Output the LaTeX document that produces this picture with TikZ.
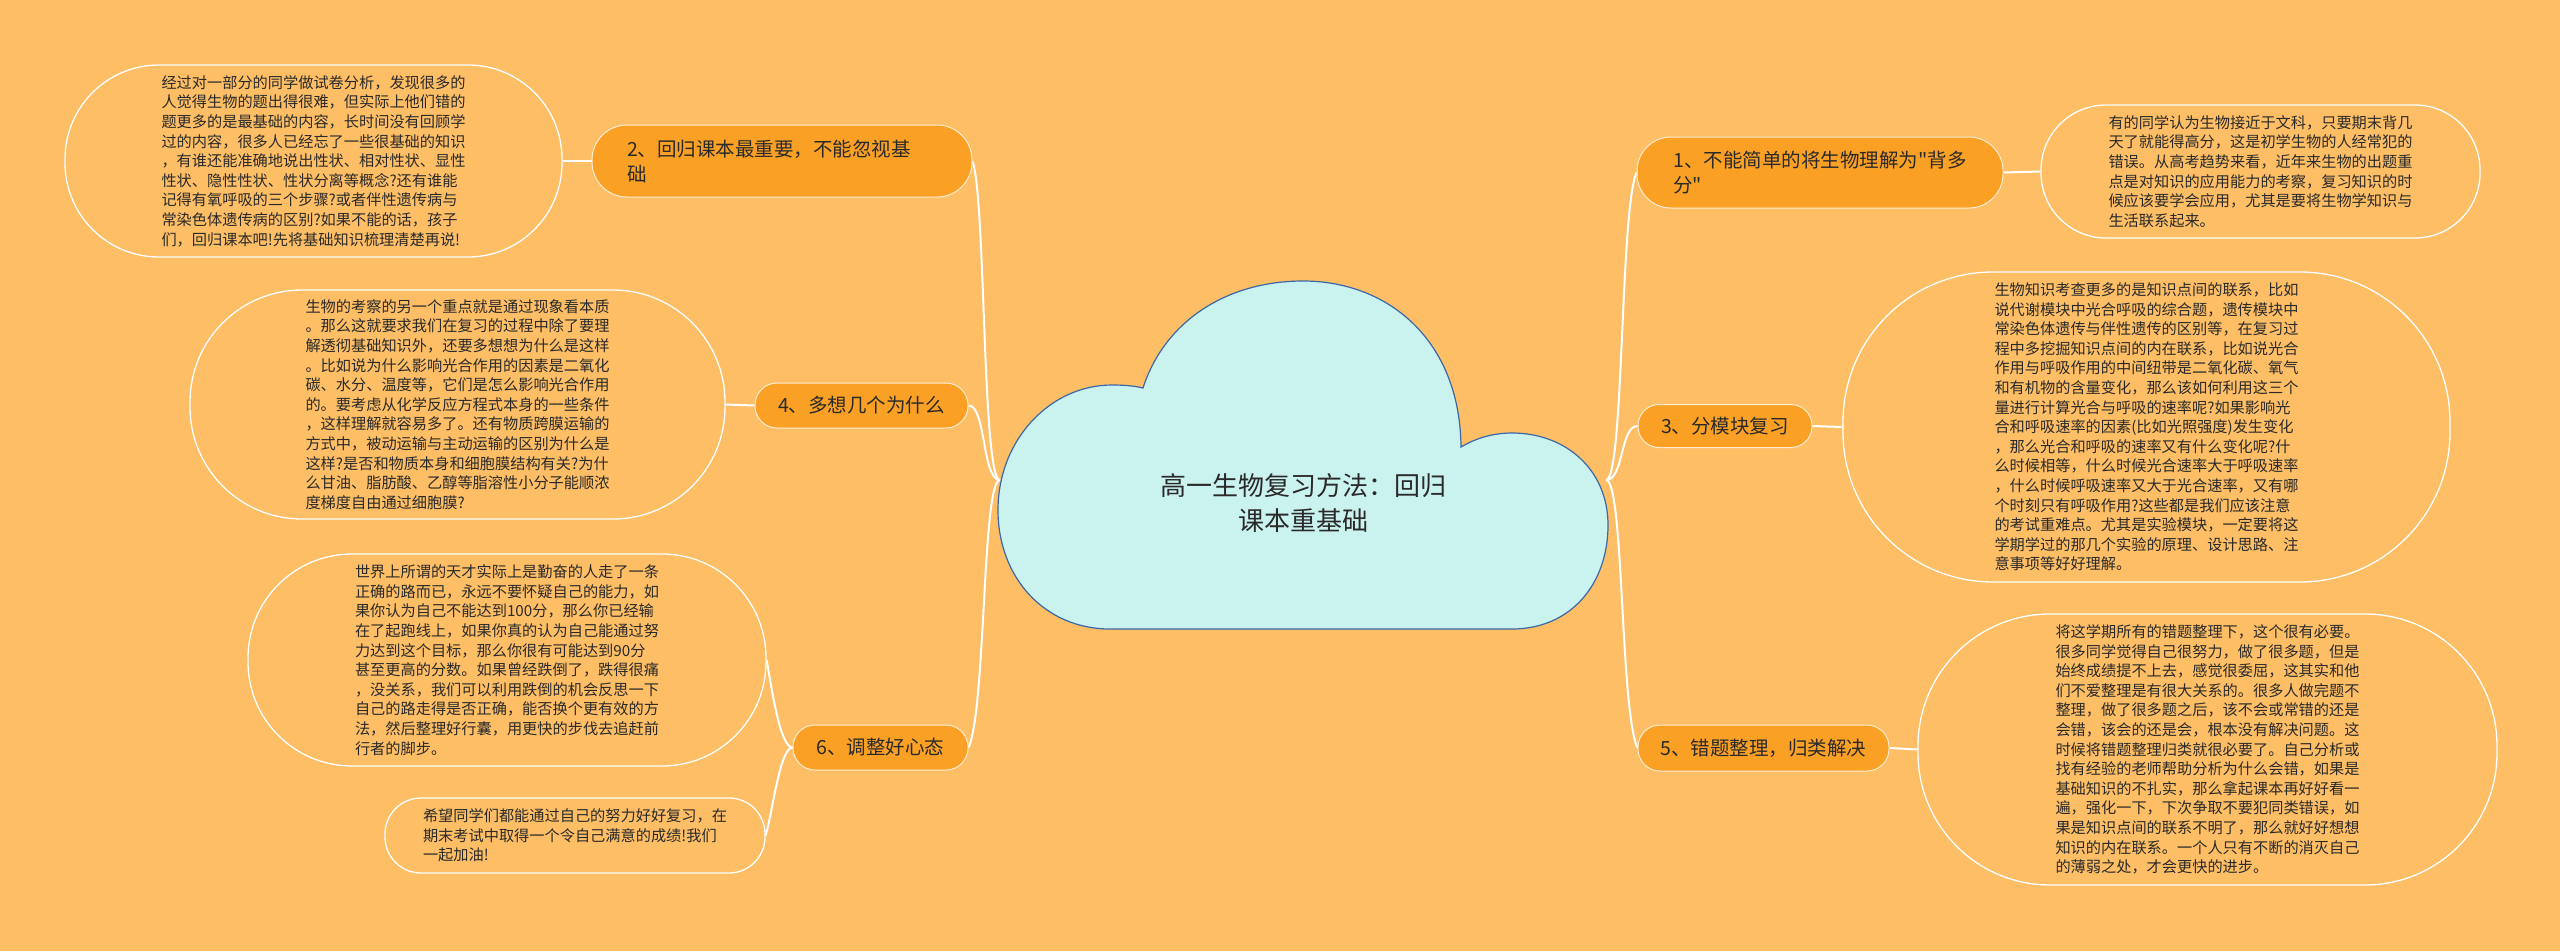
\documentclass[tikz,border=0pt]{standalone}
\usepackage{fontspec}
\newfontfamily\cjk{Noto Sans CJK SC}
\definecolor{bgc}{HTML}{FDBE66}
\definecolor{brc}{HTML}{FAA125}
\definecolor{cloudc}{HTML}{CAF2EF}
\definecolor{cloudb}{HTML}{3A68A8}
\definecolor{txt}{HTML}{2A2A2A}
\pgfdeclarelayer{back}
\pgfsetlayers{back,main}
\tikzset{
  leaf/.style={draw=white, line width=1.3pt, fill=bgc, text=txt,
    font=\cjk\fontsize{15.2}{19.6}\selectfont, align=left, inner sep=0pt,
    rounded corners=#1},
  branch/.style={draw=white!80!brc, line width=1pt, fill=brc, text=txt,
    font=\cjk\fontsize{19.5}{25}\selectfont, align=left, inner sep=0pt,
    rounded corners=#1},
  conn/.style={draw=white, line width=2pt},
  cloudtext/.style={text=txt, font=\cjk\fontsize{26}{35}\selectfont, align=center, inner sep=0pt}
}
\begin{document}
\begin{tikzpicture}[x=1pt,y=-1pt]
\useasboundingbox (0,0) rectangle (2560,951);
\begin{pgfonlayer}{back}
\fill[bgc] (0,0) rectangle (2560,951);
\end{pgfonlayer}

% central cloud
\filldraw[fill=cloudc, draw=cloudb, line width=1.2pt]
 (1143,388) .. controls (1165,320) and (1228,281) .. (1303,281)
 .. controls (1388,281) and (1460,340) .. (1461,447)
 .. controls (1478,437) and (1495,433) .. (1512,433)
 .. controls (1566,433) and (1608,470) .. (1608,525)
 .. controls (1608,585) and (1570,629) .. (1512,629)
 -- (1110,629)
 .. controls (1045,629) and (998,578) .. (998,510)
 .. controls (998,440) and (1050,385) .. (1112,385)
 .. controls (1125,385) and (1135,386) .. (1143,388) -- cycle;
\node[cloudtext] (root) at (1303,503) {高一生物复习方法：回归\\课本重基础};
\coordinate (rootL) at (1000,480);
\coordinate (rootR) at (1606,480);

% branches right
\node[branch=34pt, minimum width=366pt, minimum height=71pt] (b1) at (1820,172.5)
  {1、不能简单的将生物理解为"背多\\分"};
\node[branch=21pt, minimum width=174pt, minimum height=43pt] (b3) at (1725,426) {3、分模块复习};
\node[branch=22pt, minimum width=251pt, minimum height=46pt] (b5) at (1763.5,748) {5、错题整理，归类解决};

% branches left
\node[branch=35pt, minimum width=380pt, minimum height=72pt, text width=310pt] (b2) at (782,161)
  {2、回归课本最重要，不能忽视基\\础};
\node[branch=22pt, minimum width=213pt, minimum height=45pt] (b4) at (861.5,405.5) {4、多想几个为什么};
\node[branch=22pt, minimum width=175pt, minimum height=45pt] (b6) at (880.5,747.5) {6、调整好心态};

% leaves right
\node[leaf=65pt, minimum width=439pt, minimum height=133pt] (l1) at (2260.5,171.5)
{有的同学认为生物接近于文科，只要期末背几\\
天了就能得高分，这是初学生物的人经常犯的\\
错误。从高考趋势来看，近年来生物的出题重\\
点是对知识的应用能力的考察，复习知识的时\\
候应该要学会应用，尤其是要将生物学知识与\\
生活联系起来。};

\node[leaf=150pt, minimum width=607pt, minimum height=310pt] (l3) at (2146.5,427)
{生物知识考查更多的是知识点间的联系，比如\\
说代谢模块中光合呼吸的综合题，遗传模块中\\
常染色体遗传与伴性遗传的区别等，在复习过\\
程中多挖掘知识点间的内在联系，比如说光合\\
作用与呼吸作用的中间纽带是二氧化碳、氧气\\
和有机物的含量变化，那么该如何利用这三个\\
量进行计算光合与呼吸的速率呢?如果影响光\\
合和呼吸速率的因素(比如光照强度)发生变化\\
，那么光合和呼吸的速率又有什么变化呢?什\\
么时候相等，什么时候光合速率大于呼吸速率\\
，什么时候呼吸速率又大于光合速率，又有哪\\
个时刻只有呼吸作用?这些都是我们应该注意\\
的考试重难点。尤其是实验模块，一定要将这\\
学期学过的那几个实验的原理、设计思路、注\\
意事项等好好理解。};

\node[leaf=132pt, minimum width=579pt, minimum height=271pt] (l5) at (2207.5,749.5)
{将这学期所有的错题整理下，这个很有必要。\\
很多同学觉得自己很努力，做了很多题，但是\\
始终成绩提不上去，感觉很委屈，这其实和他\\
们不爱整理是有很大关系的。很多人做完题不\\
整理，做了很多题之后，该不会或常错的还是\\
会错，该会的还是会，根本没有解决问题。这\\
时候将错题整理归类就很必要了。自己分析或\\
找有经验的老师帮助分析为什么会错，如果是\\
基础知识的不扎实，那么拿起课本再好好看一\\
遍，强化一下，下次争取不要犯同类错误，如\\
果是知识点间的联系不明了，那么就好好想想\\
知识的内在联系。一个人只有不断的消灭自己\\
的薄弱之处，才会更快的进步。};

% leaves left
\node[leaf=94pt, minimum width=497pt, minimum height=192pt] (l2) at (313.5,161)
{经过对一部分的同学做试卷分析，发现很多的\\
人觉得生物的题出得很难，但实际上他们错的\\
题更多的是最基础的内容，长时间没有回顾学\\
过的内容，很多人已经忘了一些很基础的知识\\
，有谁还能准确地说出性状、相对性状、显性\\
性状、隐性性状、性状分离等概念?还有谁能\\
记得有氧呼吸的三个步骤?或者伴性遗传病与\\
常染色体遗传病的区别?如果不能的话，孩子\\
们，回归课本吧!先将基础知识梳理清楚再说!};

\node[leaf=112pt, minimum width=535pt, minimum height=229pt] (l4) at (457.5,404.5)
{生物的考察的另一个重点就是通过现象看本质\\
。那么这就要求我们在复习的过程中除了要理\\
解透彻基础知识外，还要多想想为什么是这样\\
。比如说为什么影响光合作用的因素是二氧化\\
碳、水分、温度等，它们是怎么影响光合作用\\
的。要考虑从化学反应方程式本身的一些条件\\
，这样理解就容易多了。还有物质跨膜运输的\\
方式中，被动运输与主动运输的区别为什么是\\
这样?是否和物质本身和细胞膜结构有关?为什\\
么甘油、脂肪酸、乙醇等脂溶性小分子能顺浓\\
度梯度自由通过细胞膜?};

\node[leaf=104pt, minimum width=518pt, minimum height=212pt] (l6) at (507,660)
{世界上所谓的天才实际上是勤奋的人走了一条\\
正确的路而已，永远不要怀疑自己的能力，如\\
果你认为自己不能达到100分，那么你已经输\\
在了起跑线上，如果你真的认为自己能通过努\\
力达到这个目标，那么你很有可能达到90分\\
甚至更高的分数。如果曾经跌倒了，跌得很痛\\
，没关系，我们可以利用跌倒的机会反思一下\\
自己的路走得是否正确，能否换个更有效的方\\
法，然后整理好行囊，用更快的步伐去追赶前\\
行者的脚步。};

\node[leaf=36pt, minimum width=380pt, minimum height=75pt] (l6b) at (575,835.5)
{希望同学们都能通过自己的努力好好复习，在\\
期末考试中取得一个令自己满意的成绩!我们\\
一起加油!};

% connectors
\begin{pgfonlayer}{back}
\draw[conn] (rootL) .. controls (982,480) and (986,200) .. (b2.east);
\draw[conn] (rootL) .. controls (982,480) and (986,405) .. (b4.east);
\draw[conn] (rootL) .. controls (982,480) and (986,710) .. (b6.east);
\draw[conn] (rootR) .. controls (1624,480) and (1620,210) .. (b1.west);
\draw[conn] (rootR) .. controls (1624,480) and (1620,426) .. (b3.west);
\draw[conn] (rootR) .. controls (1624,480) and (1620,710) .. (b5.west);
\draw[conn] (b2.west) -- (l2.east);
\draw[conn] (b4.west) -- (l4.east);
\draw[conn] (b6.west) .. controls (780,747) and (772,690) .. (l6.east);
\draw[conn] (b6.west) .. controls (780,747) and (772,815) .. (l6b.east);
\draw[conn] (b1.east) -- (l1.west);
\draw[conn] (b3.east) -- (l3.west);
\draw[conn] (b5.east) -- (l5.west);
\end{pgfonlayer}
\end{tikzpicture}
\end{document}
